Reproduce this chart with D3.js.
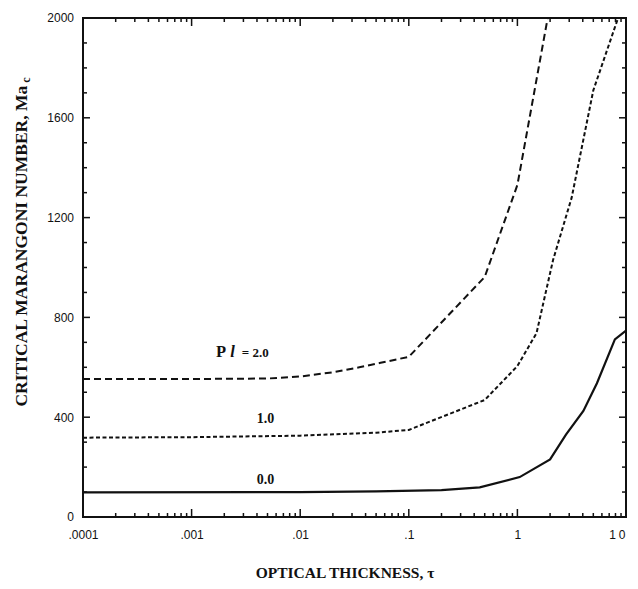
<!DOCTYPE html>
<html>
<head>
<meta charset="utf-8">
<script src="https://cdn.jsdelivr.net/npm/d3@7"></script>
<style>
  body { margin: 0; background: #fff; }
  svg { display: block; }
  .tick text { font-family: "Liberation Sans", Arial, sans-serif; font-size: 12px; fill: #111; }
  .ttl { font-family: "Liberation Serif", "Times New Roman", serif; font-weight: bold; fill: #111; }
</style>
</head>
<body>
<div id="chart"></div>
<script>
// optical thickness tau vs critical Marangoni number, for three Pl values
const tauTicks = [0.0001, 0.001, 0.01, 0.1, 1, 10];
const tauLabels = [".0001", ".001", ".01", ".1", "1", "10"];
const maTicks = [0, 400, 800, 1200, 1600, 2000];

const pl20 = [[0.0001, 553], [0.001, 553], [0.005, 555], [0.01, 563], [0.02, 580], [0.035, 600],
  [0.055, 618], [0.1, 642], [0.5, 962], [1, 1331], [1.9, 2000]];
const pl10 = [[0.0001, 318], [0.001, 320], [0.01, 326], [0.05, 338], [0.1, 349], [0.5, 469],
  [1, 605], [1.5, 737], [2.13, 1030], [3.16, 1280], [5, 1710], [8.45, 2000]];
const pl00 = [[0.0001, 99], [0.01, 100], [0.05, 103], [0.2, 108], [0.45, 119], [1.05, 160],
  [2, 231], [2.8, 330], [4.05, 425], [5.4, 536], [7.9, 712], [10, 747]];

const width = 638, height = 589;
const margin = {top: 18, right: 12, bottom: 72, left: 83};
const w = width - margin.left - margin.right;
const h = height - margin.top - margin.bottom;

const svg = d3.select('#chart').append('svg')
  .attr('width', width)
  .attr('height', height);
const g = svg.append('g').attr('transform', `translate(${margin.left},${margin.top})`);

const x = d3.scaleLog().domain([0.0001, 10]).range([0, w]);
const y = d3.scaleLinear().domain([0, 2000]).range([h, 0]);

const minorX = x.ticks().filter(d => tauTicks.indexOf(d) < 0);
const minorY = d3.range(100, 2000, 100).filter(d => d % 400 != 0);

// tick labels from the axes, tick marks drawn inward on all four sides
g.append('g').attr('transform', `translate(0,${h})`)
  .call(d3.axisBottom(x).tickValues(tauTicks).tickSize(0).tickPadding(13)
    .tickFormat((d, i) => tauLabels[i]))
  .call(s => s.select('.domain').remove())
  .call(s => s.selectAll('.tick text').filter(d => d == 10)
    .attr('text-anchor', 'end').attr('dx', 2).attr('letter-spacing', '3px'));
g.append('g')
  .call(d3.axisLeft(y).tickValues(maTicks).tickSize(0).tickPadding(9).tickFormat(d3.format('d')))
  .call(s => s.select('.domain').remove());

const ticks = g.append('g').attr('stroke', '#111').attr('stroke-width', 1.5);
function xTicks(vals, len) {
  ticks.selectAll(null).data(vals).enter().append('line')
    .attr('x1', d => x(d)).attr('x2', d => x(d)).attr('y1', h).attr('y2', h - len);
  ticks.selectAll(null).data(vals).enter().append('line')
    .attr('x1', d => x(d)).attr('x2', d => x(d)).attr('y1', 0).attr('y2', len);
}
function yTicks(vals, len) {
  ticks.selectAll(null).data(vals).enter().append('line')
    .attr('y1', d => y(d)).attr('y2', d => y(d)).attr('x1', 0).attr('x2', len);
  ticks.selectAll(null).data(vals).enter().append('line')
    .attr('y1', d => y(d)).attr('y2', d => y(d)).attr('x1', w).attr('x2', w - len);
}
xTicks(tauTicks, 8);
xTicks(minorX, 4);
yTicks(maTicks, 7);
yTicks(minorY, 4);

g.append('rect')
  .attr('width', w).attr('height', h)
  .attr('fill', 'none').attr('stroke', '#111').attr('stroke-width', 2);

g.append('clipPath').attr('id', 'clip')
  .append('rect').attr('width', w).attr('height', h);

const line = d3.line().x(d => x(d[0])).y(d => y(d[1]));

g.append('path').datum(pl20)
  .attr('clip-path', 'url(#clip)')
  .attr('fill', 'none').attr('stroke', '#111').attr('stroke-width', 2)
  .attr('stroke-dasharray', '7,4')
  .attr('d', line);
g.append('path').datum(pl10)
  .attr('clip-path', 'url(#clip)')
  .attr('fill', 'none').attr('stroke', '#111').attr('stroke-width', 2)
  .attr('stroke-dasharray', '4,2.5')
  .attr('d', line);
g.append('path').datum(pl00)
  .attr('clip-path', 'url(#clip)')
  .attr('fill', 'none').attr('stroke', '#111').attr('stroke-width', 2.2)
  .attr('d', line);

// curve labels
const lab = g.append('text').attr('class', 'ttl')
  .attr('x', x(0.00168)).attr('y', y(640));
lab.append('tspan').attr('font-size', 16.5).text('P');
lab.append('tspan').attr('font-size', 16.5).attr('font-style', 'italic').attr('dx', 4).text('l');
lab.append('tspan').attr('font-size', 13).attr('dx', 7).text('= 2.0');

g.append('text').attr('class', 'ttl').attr('font-size', 14)
  .attr('x', x(0.0048)).attr('y', y(377)).attr('text-anchor', 'middle').text('1.0');
g.append('text').attr('class', 'ttl').attr('font-size', 14)
  .attr('x', x(0.0048)).attr('y', y(133)).attr('text-anchor', 'middle').text('0.0');

// axis titles
svg.append('text').attr('class', 'ttl').attr('font-size', 15.5)
  .attr('x', 345).attr('y', 578).attr('text-anchor', 'middle')
  .text('OPTICAL THICKNESS, τ');

const yt = svg.append('text').attr('class', 'ttl').attr('font-size', 17.5)
  .attr('text-anchor', 'middle')
  .attr('transform', 'translate(27,242) rotate(-90)');
yt.append('tspan').text('CRITICAL MARANGONI NUMBER, Ma');
yt.append('tspan').attr('font-size', 12).attr('dy', 3).attr('dx', 3).text('c');
</script>
</body>
</html>
